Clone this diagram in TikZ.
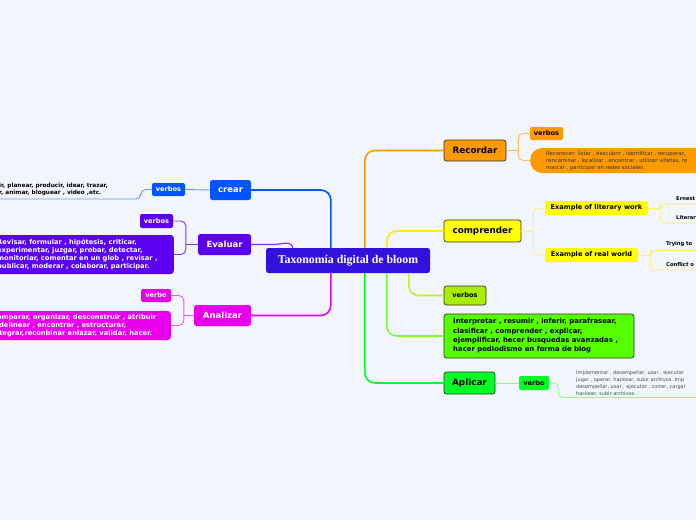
\documentclass[tikz,border=0pt]{standalone}
\usepackage{fontspec}
\setmainfont{DejaVu Sans}
\newfontfamily\titlefont{Liberation Serif}
\usetikzlibrary{calc}
\definecolor{bg}{HTML}{F3F5FD}
\definecolor{cCtr}{HTML}{3311DD}
\definecolor{cOrange}{HTML}{FF9900}
\definecolor{cYellow}{HTML}{FFFF00}
\definecolor{cLime}{HTML}{A8EE00}
\definecolor{cGreenBox}{HTML}{55FF00}
\definecolor{cGreen}{HTML}{00FF22}
\definecolor{cBlue}{HTML}{0055FF}
\definecolor{cPurple}{HTML}{5B00F0}
\definecolor{cMag}{HTML}{E800EE}
\definecolor{lOrange}{HTML}{FFBB55}
\definecolor{lYellow}{HTML}{FFF266}
\definecolor{lGreen}{HTML}{88FF88}
\definecolor{lLime}{HTML}{C8F566}
\definecolor{lBlue}{HTML}{6E95FF}
\definecolor{lPurple}{HTML}{7A33F5}
\definecolor{lMag}{HTML}{EE55EE}
\newcommand{\fsz}[2]{\fontsize{#1}{#2}\selectfont}
\begin{document}
\begin{tikzpicture}[x=1pt,y=-1pt,
  ctrbox/.style={fill=cCtr, rounded corners=2.5pt, text=white, inner sep=0pt, font=\titlefont\bfseries\fsz{11.8}{13}},
  mainbox/.style={draw=black!80, line width=0.7pt, rounded corners=2.5pt, inner sep=0pt, text=black, font=\bfseries\fsz{8.8}{10}},
  leftbox/.style={rounded corners=2.5pt, inner sep=0pt, text=white, font=\bfseries\fsz{8.5}{10}},
  smallbox/.style={rounded corners=2pt, inner sep=0pt, font=\bfseries\fsz{6.6}{8}},
  tinytext/.style={inner sep=0pt, font=\fsz{5.3}{7}, align=left},
  tinybold/.style={inner sep=0pt, font=\bfseries\fsz{5.2}{7}, align=left},
  conn/.style={line width=1.6pt, rounded corners=10pt},
  subconn/.style={line width=0.9pt, rounded corners=5pt},
]
\useasboundingbox (0,0) rectangle (696,520);
\fill[bg] (0,0) rectangle (696,520);

% ---------- central ----------
\node[ctrbox, minimum width=164pt, minimum height=25pt] (ctr) at (348,260.5) {Taxonomía digital de bloom};

% ---------- right side nodes ----------
\node[mainbox, fill=cOrange, minimum width=62pt, minimum height=21pt] (rec) at (475,150.5) {Recordar};
\node[smallbox, fill=cOrange, text=black, minimum width=33pt, minimum height=13pt] (recv) at (546.5,133.5) {verbos};
\node[fill=cOrange, rounded corners=12pt, minimum width=200pt, minimum height=25pt, anchor=west, inner sep=0pt] (recbox) at (530,160.5) {};
\node[tinytext, text=black!80, anchor=north west] (rect) at (546,151.5) {Reconocer: listar , descubrir , identificar , recuperar,\\rencaminar , localizar , encontrar , utilizar viñetas, re\\marcar , participar en redes sociales};

\node[mainbox, fill=cYellow, minimum width=77pt, minimum height=22pt] (comp) at (482.5,231) {comprender};
\node[smallbox, fill=cYellow, text=black, minimum width=103pt, minimum height=14pt] (lit) at (596.5,208) {Example of literary work};
\node[smallbox, fill=cYellow, text=black, minimum width=93pt, minimum height=14pt] (rw) at (591.5,255) {Example of real world};
\node[tinybold, anchor=west] (ern) at (676,199) {Ernest};
\node[tinybold, anchor=west] (litw) at (676,218) {Literar};
\node[tinybold, anchor=west] (try) at (666,244.5) {Trying to};
\node[tinybold, anchor=west] (conf) at (666,264.5) {Conflict o};

\node[mainbox, fill=cLime, font=\bfseries\fsz{6.6}{8}, minimum width=42pt, minimum height=19pt] (lverb) at (465,295.5) {verbos};
\node[mainbox, fill=cGreenBox, minimum width=190pt, minimum height=44pt] (gbox) at (539,336) {};
\node[inner sep=0pt, font=\bfseries\fsz{6.9}{9.3}, align=left, anchor=west] (gtext) at (453,336) {Interpretar , resumir , inferir, parafrasear,\\clasificar , comprender , explicar,\\ejemplificar, hecer busquedas avanzadas ,\\hacer pediodismo en forma de blog};

\node[mainbox, fill=cGreen, minimum width=51pt, minimum height=22pt] (apl) at (469.5,383) {Aplicar};
\node[smallbox, fill=cGreen, text=black, minimum width=30pt, minimum height=14pt] (aplv) at (534,383) {verbo};
\node[tinytext, font=\fsz{5}{7}, text=black!70, anchor=north west] (aplt) at (576,370) {Implementar , desempeñar, usar , ejecutar\\jugar , operar, hackear, subir archivos .Imp\\desempeñar, usar , ejecutar , correr, cargar\\hackear, subir archivos .};

% ---------- left side nodes ----------
\node[leftbox, fill=cBlue, minimum width=41pt, minimum height=20pt] (crear) at (230.5,190) {crear};
\node[smallbox, fill=cBlue, text=white, minimum width=33pt, minimum height=13pt] (bv) at (168.5,189.5) {verbos};
\node[inner sep=0pt, font=\bfseries\fsz{5.8}{7}, align=left, anchor=west] (crt) at (-1,189.5) {ir, planear, producir, idear, trazar,\\r, animar, bloguear , video  ,etc.};

\node[leftbox, fill=cPurple, minimum width=53pt, minimum height=21pt] (eva) at (224.5,244.5) {Evaluar};
\node[smallbox, fill=cPurple, text=white, minimum width=33pt, minimum height=14pt] (pv) at (156.5,221) {verbos};
\node[fill=cPurple, rounded corners=3pt, minimum width=200pt, minimum height=39pt, anchor=east, inner sep=0pt] (evbox) at (174,254.5) {};
\node[inner sep=0pt, text=white, font=\bfseries\fsz{6.7}{8.2}, align=left, anchor=west] (evt) at (-3,254.5) {Revisar, formular , hipótesis, criticar,\\experimentar, juzgar, probar, detectar,\\monitoriar, comentar en un glob , revisar ,\\publicar, moderar , colaborar, participar.};

\node[leftbox, fill=cMag, minimum width=57pt, minimum height=21pt] (ana) at (222.5,315.5) {Analizar};
\node[smallbox, fill=cMag, text=white, minimum width=30pt, minimum height=13pt] (mv) at (156,295.5) {verbo};
\node[fill=cMag, rounded corners=3pt, minimum width=200pt, minimum height=29pt, anchor=east, inner sep=0pt] (anbox) at (171,325.5) {};
\node[inner sep=0pt, text=white, font=\bfseries\fsz{6.7}{8.3}, align=left, anchor=west] (ant) at (-8,325.5) {Comparar, organizar, desconstruir , atribuir\\\hspace{7pt}delinear , encontrar , estructurar,\\integrar,reconbinar enlazar, validar, hacer.};

% ---------- main connectors ----------
\draw[conn, cOrange] ($(ctr.north west)+(99,0)$) |- (rec.west);
\draw[conn, cYellow!85!orange] ($(ctr.north west)+(121,0)$) |- (comp.west);
\draw[conn, cBlue] ($(ctr.north west)+(65,0)$) |- (crear.east);
\draw[line width=1.2pt, lPurple] (eva.east) -- ++(22,0) to[out=0,in=100] ($(ctr.north west)+(27,0)$);
\draw[conn, cMag] ($(ctr.south west)+(65,0)$) |- (ana.east);
\draw[conn, cGreen] ($(ctr.south west)+(99,0)$) |- (apl.west);
\draw[conn, cGreenBox!80!white] ($(ctr.south west)+(121,0)$) |- (gbox.west);
\draw[conn, cLime!80!white] ($(ctr.south west)+(143,0)$) |- (lverb.west);

% ---------- sub connectors ----------
\coordinate (rb) at ($(rec.east)+(12,0)$);
\draw[subconn, lOrange] (rec.east) -- (rb);
\draw[subconn, lOrange] (recv.west) -| (rb) |- (recbox.west);

\coordinate (cb) at ($(comp.east)+(12,0)$);
\draw[subconn, lYellow] (comp.east) -- (cb);
\draw[subconn, lYellow] (lit.west) -| (cb) |- (rw.west);

\coordinate (lb) at ($(lit.east)+(12,0)$);
\coordinate (le1) at (700,204);
\coordinate (le2) at (700,223);
\draw[subconn, lYellow] (lit.east) -- (lb);
\draw[subconn, lYellow] (le1) -| (lb) |- (le2);

\coordinate (wb) at ($(rw.east)+(12,0)$);
\coordinate (we1) at (700,250.5);
\coordinate (we2) at (700,270);
\draw[subconn, lYellow] (rw.east) -- (wb);
\draw[subconn, lYellow] (we1) -| (wb) |- (we2);

\coordinate (aend) at (700,397.5);
\draw[subconn, lGreen] (apl.east) -- (aplv.west);
\draw[subconn, lGreen] (aplv.east) -- ++(9,0) |- (aend);

\coordinate (cend) at (-5,199);
\draw[subconn, lBlue] (crear.west) -- (bv.east);
\draw[subconn, lBlue] (bv.west) -- ++(-11,0) |- (cend);

\coordinate (eb) at ($(eva.west)+(-12,0)$);
\draw[subconn, lPurple] (eva.west) -- (eb);
\draw[subconn, lPurple] (pv.east) -| (eb) |- (evbox.east);

\coordinate (ab) at ($(ana.west)+(-10,0)$);
\draw[subconn, lMag] (ana.west) -- (ab);
\draw[subconn, lMag] (mv.east) -| (ab) |- (anbox.east);
\end{tikzpicture}
\end{document}
